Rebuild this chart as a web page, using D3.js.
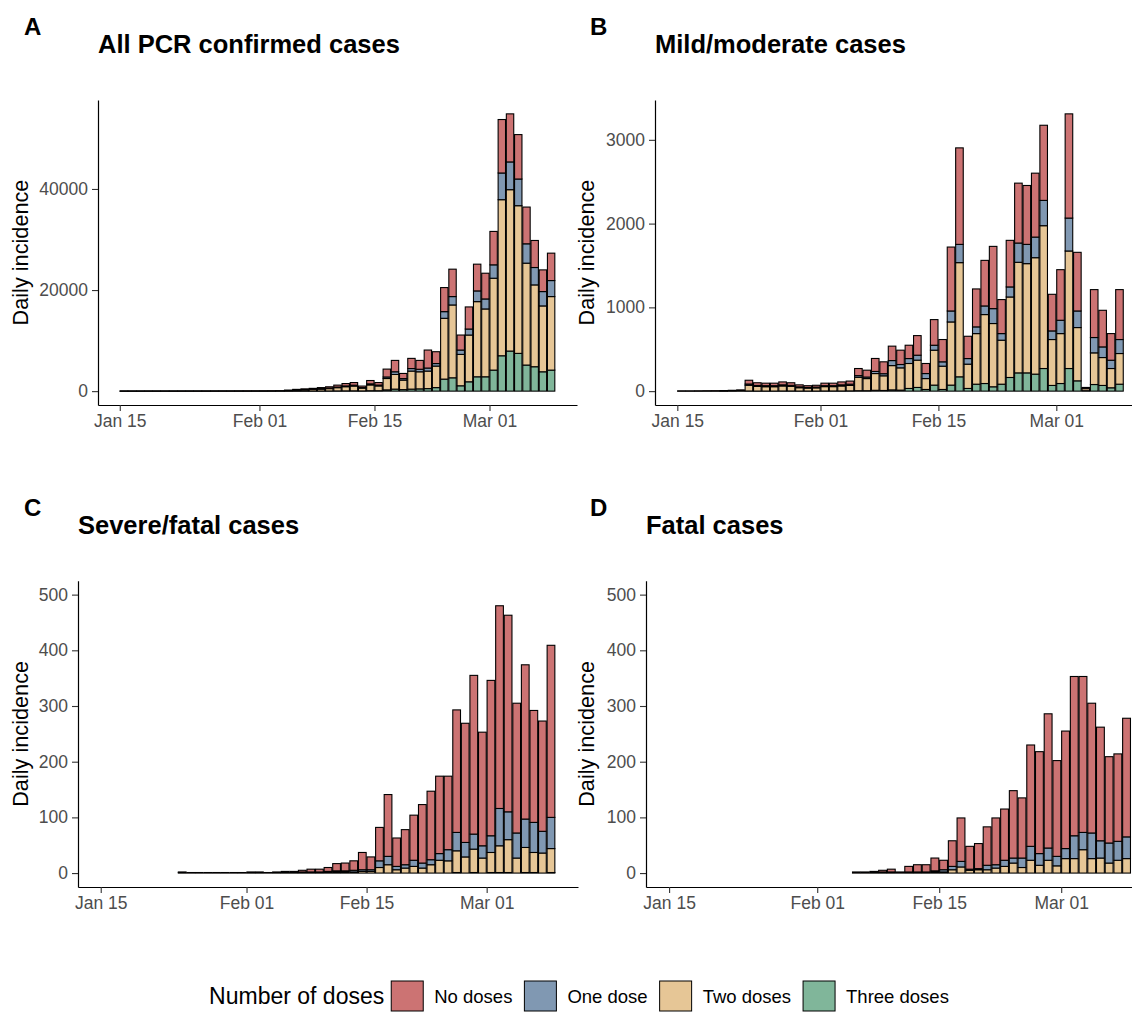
<!DOCTYPE html>
<html>
<head>
<meta charset="utf-8">
<script src="https://cdn.jsdelivr.net/npm/d3@7"></script>
<style>
  body { margin: 0; background: #fff; }
  svg { display: block; font-family: "Liberation Sans", Arial, Helvetica, sans-serif; }
</style>
</head>
<body>
<script>
// ---- data (daily counts by number of doses) ----
var xTickDates = ["2022-01-15", "2022-02-01", "2022-02-15", "2022-03-01"];
var lastDay = "2022-03-08";

var doseKeys = ["three", "two", "one", "none"];          // stacking order, bottom -> top
var legendKeys = ["none", "one", "two", "three"];
var legendLabels = ["No doses", "One dose", "Two doses", "Three doses"];
var doseColors = {none: "#cc7373", one: "#8098b2", two: "#e6c696", three: "#80b69a"};

// A: all PCR confirmed cases, from Jan 15
var allStart = "2022-01-15";
var allNone = [5,4,5,6,6,7,7,9,10,10, 11,12,15,15,17,20,22,23,26,32,
  65,115,140,175,225,275,380,470,520,300, 660,500,1560,2250,1020,2010,1750,3560,2340,4760,
  5420,2970,4370,5290,5090,6610,10580,9510,8790,7270, 5350,4290,5420];
var allOne = [1,1,1,1,1,2,2,2,2,2, 2,3,3,3,4,4,5,5,6,8,
  20,35,45,55,70,85,120,150,170,100, 210,170,300,530,300,500,500,600,500,1320,
  1660,860,1190,2120,1980,2650,5280,5490,5280,3830, 3440,2840,3170];
var allTwo = [4,3,4,5,5,6,6,7,8,8, 9,10,12,12,14,16,18,22,28,40,
  110,190,250,300,380,470,650,830,950,560, 1150,950,2250,2900,1880,3570,3380,3470,4260,12030,
  14410,6210,9250,14870,13420,18180,30880,31930,29220,20160, 16190,13030,14550];
var allThree = [0,0,0,0,0,0,0,0,0,0, 0,0,0,0,0,0,0,0,0,0,
  5,10,15,20,25,30,40,50,60,40, 80,80,250,400,300,400,450,500,700,2380,
  2640,1060,1850,2840,2840,4160,7000,7930,7470,5160, 4830,3830,4160];

// B: mild/moderate cases, from Jan 15
var mildStart = "2022-01-15";
var mildNone = [1,1,2,2,3,4,5,8, 45,32,30,30,35,31,24,21,22,30,30,35,
  37,85,82,155,142,172,171,159,234,120, 306,266,763,1152,266,453,544,743,406,556,
  715,703,763,897,437,604,1244,700,9,572, 437,318,596];
var mildOne = [0,0,0,0,0,1,1,2, 15,12,12,12,13,12,10,8,9,11,11,13,
  15,20,18,25,25,60,40,59,59,60, 59,52,131,218,67,80,103,178,79,120,
  230,230,246,302,103,159,393,198,5,183, 127,99,167];
var mildTwo = [1,1,1,2,2,2,4,5, 68,55,52,52,60,55,40,35,38,52,52,60,
  65,160,145,200,175,290,266,298,326,130, 417,278,754,1363,290,604,823,755,525,961,
  1320,1304,1390,1705,548,596,1403,636,25,378, 333,230,366];
var mildThree = [0,0,0,0,0,0,0,0, 2,1,1,1,2,2,1,1,1,2,2,2,
  3,5,5,10,8,15,12,32,44,20, 72,20,72,171,32,83,91,52,83,163,
  218,218,203,270,68,91,270,123,5,79, 68,40,83];

// C: severe/fatal cases, from Jan 24
var severeStart = "2022-01-24";
var severeNone = [1,1,1,1,1,1,1,1,1,1,1,1,2,2,3,5,5,7,13,14,17,31,
  23,60,111,51,63,81,105,123,139,132,220,214,285,204,279,364,353,233,277,201,198,309];
var severeOne = [0,0,0,0,0,0,0,0,0,0,0,0,0,0,1,1,1,1,2,2,3,3,
  3,12,15,6,6,11,9,9,12,20,33,26,27,22,30,67,50,45,51,54,39,56];
var severeTwo = [1,0,0,0,0,0,0,0,1,1,0,1,1,1,1,1,1,2,2,2,2,3,
  3,10,15,6,9,12,9,15,23,22,39,29,42,27,36,48,59,27,45,36,36,43];
var severeThree = [0,0,0,0,0,0,0,0,0,0,0,0,0,0,0,0,0,0,0,0,0,0,
  0,0,0,0,0,0,0,0,0,0,1,0,1,0,1,1,1,0,1,1,0,1];

// D: fatal cases, from Feb 05
var fatalStart = "2022-02-05";
var fatalNone = [2,2,2,3,5,2,10,13,13,23, 17,46,78,41,45,69,84,92,121,108,
  182,183,241,172,211,286,280,233,204,155, 157,213];
var fatalOne = [0,0,0,1,1,0,1,1,1,2, 4,6,10,2,2,8,6,11,9,17,
  25,21,22,17,18,41,31,46,31,36, 34,39];
var fatalTwo = [0,0,1,1,1,0,1,1,1,2, 2,6,11,5,6,6,9,12,18,10,
  23,14,23,13,26,26,42,26,27,18, 23,26];
var fatalThree = [0,0,0,0,0,0,0,0,0,0, 0,0,0,0,0,0,0,0,0,0,
  0,0,0,0,0,0,0,0,0,0, 0,0];

var allTicks = [0, 20000, 40000];
var mildTicks = [0, 1000, 2000, 3000];
var severeTicks = [0, 100, 200, 300, 400, 500];
var fatalTicks = [0, 100, 200, 300, 400, 500];

// ---- helpers ----
var parseDay = d3.utcParse("%Y-%m-%d");
var fmtTick = d3.utcFormat("%b %d");
var DAY = 864e5;

function rowsFrom(start, none, one, two, three) {
  var t0 = parseDay(start);
  return none.map(function(v, i) {
    return {date: d3.utcDay.offset(t0, i), none: v, one: one[i], two: two[i], three: three[i]};
  });
}

var panels = [
  {tag: "A", title: "All PCR confirmed cases", rows: rowsFrom(allStart, allNone, allOne, allTwo, allThree),
   yTicks: allTicks, yLimit: null, left: 98, right: 577, top: 100, bottom: 405, tagX: 24, yTitleX: 28},
  {tag: "B", title: "Mild/moderate cases", rows: rowsFrom(mildStart, mildNone, mildOne, mildTwo, mildThree),
   yTicks: mildTicks, yLimit: null, left: 655, right: 1146, top: 100, bottom: 405, tagX: 590, yTitleX: 594},
  {tag: "C", title: "Severe/fatal cases", rows: rowsFrom(severeStart, severeNone, severeOne, severeTwo, severeThree),
   yTicks: severeTicks, yLimit: 500, left: 78, right: 578, top: 580.7, bottom: 887, tagX: 24, yTitleX: 28},
  {tag: "D", title: "Fatal cases", rows: rowsFrom(fatalStart, fatalNone, fatalOne, fatalTwo, fatalThree),
   yTicks: fatalTicks, yLimit: 500, left: 646, right: 1154, top: 580.7, bottom: 887, tagX: 590, yTitleX: 594}
];

var width = 1132, height = 1013;
var svg = d3.select("body").append("svg")
    .attr("width", width)
    .attr("height", height);

var firstX = parseDay(xTickDates[0]).getTime();
var endX = d3.utcDay.offset(parseDay(lastDay), 1).getTime();
var padX = (endX - firstX) * 0.05;

panels.forEach(function(p) {
  var g = svg.append("g");

  var x = d3.scaleUtc()
      .domain([new Date(firstX - padX), new Date(endX + padX)])
      .range([p.left, p.right]);
  var dayPx = x(new Date(firstX + DAY)) - x(new Date(firstX));

  var ymax = p.yLimit != null ? p.yLimit
    : d3.max(p.rows, function(d) { return d.none + d.one + d.two + d.three; });
  var y = d3.scaleLinear()
      .domain([-0.05 * ymax, 1.05 * ymax])
      .range([p.bottom, p.top]);

  var series = d3.stack().keys(doseKeys)(p.rows);

  g.append("g")
    .selectAll("g")
    .data(series)
    .join("g")
      .attr("fill", function(s) { return doseColors[s.key]; })
    .selectAll("rect")
    .data(function(s) { return s; })
    .join("rect")
      .attr("x", function(d) { return x(d.data.date) + 0.05 * dayPx; })
      .attr("width", 0.9 * dayPx)
      .attr("y", function(d) { return y(d[1]); })
      .attr("height", function(d) { return Math.max(0, y(d[0]) - y(d[1])); })
      .attr("stroke", "#000")
      .attr("stroke-width", 1.1);

  // axes
  var yAxis = d3.axisLeft(y)
      .tickValues(p.yTicks)
      .tickFormat(d3.format("d"))
      .tickSize(6)
      .tickSizeOuter(0)
      .tickPadding(4);
  var xAxis = d3.axisBottom(x)
      .tickValues(xTickDates.map(parseDay))
      .tickFormat(fmtTick)
      .tickSize(6)
      .tickSizeOuter(0)
      .tickPadding(4);

  var ya = g.append("g")
      .attr("transform", "translate(" + p.left + ",0)")
      .call(yAxis);
  var xa = g.append("g")
      .attr("transform", "translate(0," + p.bottom + ")")
      .call(xAxis);

  [ya, xa].forEach(function(a) {
    a.select(".domain").attr("stroke", "#000").attr("stroke-width", 1.2);
    a.selectAll(".tick line").attr("stroke", "#333").attr("stroke-width", 1.1);
    a.selectAll(".tick text")
      .attr("fill", "#4d4d4d")
      .style("font-size", "17.5px")
      .style("font-family", "'Liberation Sans', Arial, sans-serif");
  });

  // titles
  g.append("text")
      .attr("x", p.tagX)
      .attr("y", p.top - 65)
      .style("font-size", "24px")
      .style("font-weight", "bold")
      .text(p.tag);
  g.append("text")
      .attr("x", p.left)
      .attr("y", p.top - 47)
      .style("font-size", "25.5px")
      .style("font-weight", "bold")
      .text(p.title);
  g.append("text")
      .attr("transform", "translate(" + p.yTitleX + "," + ((p.top + p.bottom) / 2) + ") rotate(-90)")
      .attr("text-anchor", "middle")
      .style("font-size", "21.7px")
      .text("Daily incidence");
});

// ---- legend ----
var legend = svg.append("g");
var lx = 0;
var legTitle = legend.append("text")
    .attr("x", 0)
    .attr("y", 1004)
    .style("font-size", "23px")
    .text("Number of doses");
lx = legTitle.node().getComputedTextLength() + 7;

legendKeys.forEach(function(k, i) {
  legend.append("rect")
      .attr("x", lx)
      .attr("y", 981)
      .attr("width", 32)
      .attr("height", 30)
      .attr("fill", doseColors[k])
      .attr("stroke", "#000")
      .attr("stroke-width", 1);
  var t = legend.append("text")
      .attr("x", lx + 43)
      .attr("y", 1003)
      .style("font-size", "18.5px")
      .text(legendLabels[i]);
  lx += 43 + t.node().getComputedTextLength() + 12;
});
var legW = lx - 12;
legend.attr("transform", "translate(" + (579 - legW / 2) + ",0)");
</script>
</body>
</html>
